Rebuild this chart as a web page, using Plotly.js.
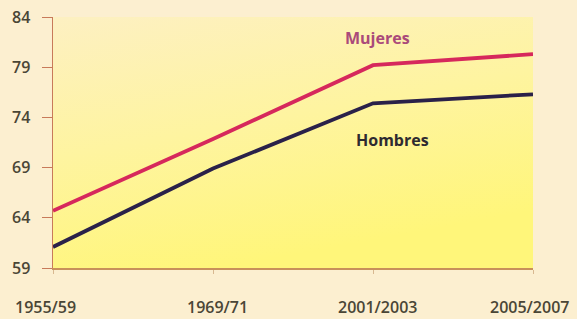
<!DOCTYPE html>
<html>
<head>
<meta charset="utf-8">
<script src="https://cdn.plot.ly/plotly-3.0.1.min.js"></script>
<style>html,body{margin:0;padding:0;background:#fcefd0;}#chart{width:577px;height:319px;}</style>
</head>
<body>
<div id="chart"></div>
<script>
const categories = ["1955/59", "1969/71", "2001/2003", "2005/2007"];
const mujeres = [64.7, 71.85, 79.2, 80.3];
const hombres = [61.1, 68.9, 75.4, 76.3];
const yTicks = [59, 64, 69, 74, 79, 84];

const svg = '<svg xmlns="http://www.w3.org/2000/svg" width="481" height="251" preserveAspectRatio="none">' +
  '<defs><linearGradient id="g" x1="0" y1="0" x2="0.35" y2="1">' +
  '<stop offset="0" stop-color="#fdf0c2"/><stop offset="0.5" stop-color="#fef4a0"/><stop offset="1" stop-color="#fff67a"/>' +
  '</linearGradient></defs><rect width="481" height="251" fill="url(#g)"/></svg>';
const bgUri = 'data:image/svg+xml;base64,' + btoa(svg);

const xIdx = categories.map((c, i) => i);
const font = "Open Sans, Noto Sans, sans-serif";

const traces = [
  {x: xIdx, y: hombres, type: 'scatter', mode: 'lines', name: 'Hombres',
   line: {color: '#2a2149', width: 3.8}, hoverinfo: 'skip'},
  {x: xIdx, y: mujeres, type: 'scatter', mode: 'lines', name: 'Mujeres',
   line: {color: '#d6285c', width: 3.8}, hoverinfo: 'skip'}
];

const xLabelShift = [-8, 4, 4, -4];
const annotations = categories.map((c, i) => ({
  x: i, y: 0, xref: 'x', yref: 'paper', yanchor: 'middle', yshift: -39, xshift: xLabelShift[i],
  text: c, showarrow: false, font: {family: font, size: 16, weight: 600, color: '#4a4636'}
}));
annotations.push({x: 2.03, y: 81.9, xref: 'x', yref: 'y', text: '<b>Mujeres</b>', showarrow: false,
  font: {family: font, size: 16, color: '#aa4a7a'}});
annotations.push({x: 2.12, y: 71.75, xref: 'x', yref: 'y', text: '<b>Hombres</b>', showarrow: false,
  font: {family: font, size: 16, color: '#2e2a30'}});

const layout = {
  width: 577, height: 319,
  margin: {l: 53, r: 44, t: 17, b: 51},
  paper_bgcolor: '#fcefd0',
  plot_bgcolor: 'rgba(0,0,0,0)',
  showlegend: false,
  images: [{source: bgUri, xref: 'paper', yref: 'paper', x: 0, y: 1, sizex: 1, sizey: 1,
    sizing: 'stretch', xanchor: 'left', yanchor: 'top', layer: 'below'}],
  xaxis: {
    range: [0, 3], tickvals: xIdx, ticktext: categories, showticklabels: false,
    showgrid: false, zeroline: false, showline: true, linecolor: '#c8905a', linewidth: 1.5,
    ticks: 'outside', ticklen: 4, tickcolor: '#d8b890', fixedrange: true
  },
  yaxis: {
    range: [59, 84], tickvals: yTicks, ticktext: yTicks.map(String),
    showgrid: false, zeroline: false, showline: true, linecolor: '#c87a5a', linewidth: 1.5,
    ticks: 'outside', ticklen: 10, tickcolor: '#c87a5a', ticklabelstandoff: 8,
    tickfont: {family: font, size: 16, weight: 600, color: '#4a4636'}, fixedrange: true
  },
  annotations: annotations
};

Plotly.newPlot('chart', traces, layout, {displayModeBar: false, staticPlot: true});
</script>
</body>
</html>
